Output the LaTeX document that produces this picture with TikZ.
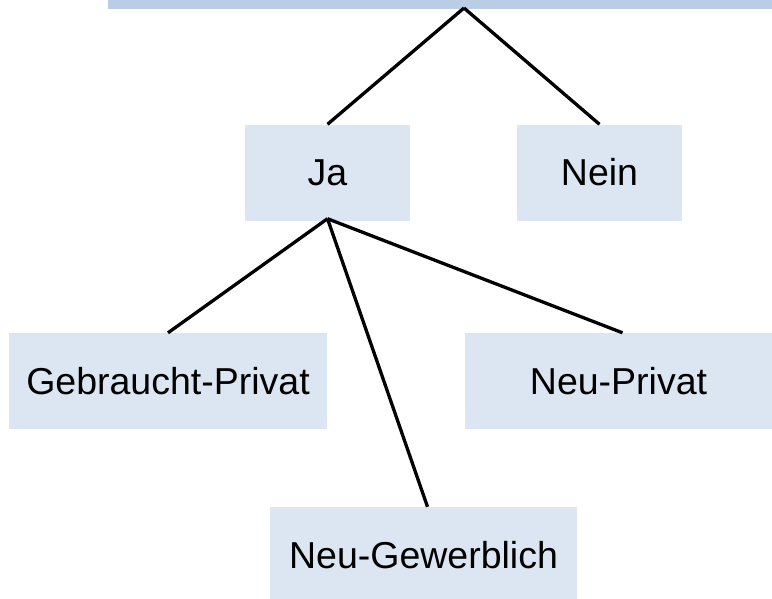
\documentclass[tikz,border=0pt]{standalone}
\usepackage{fontspec}
\setmainfont{Liberation Sans}
\usetikzlibrary{positioning}
\definecolor{barBlue}{HTML}{B9CDE5}
\definecolor{boxBlue}{HTML}{DCE6F2}
\tikzset{
    topBar/.style={rectangle, fill=barBlue, inner sep=0pt, minimum height=9pt, minimum width=664pt},
    choiceBox/.style={rectangle, fill=boxBlue, inner sep=0pt, minimum height=96pt, font=\fontsize{37.5}{40}\selectfont},
    treeEdge/.style={line width=3.3pt},
}
\newcommand{\drawBranch}[2]{
    \draw[treeEdge] (#1) -- (#2);
}

\begin{document}
\begin{tikzpicture}[x=1pt, y=-1pt]
    \useasboundingbox (0,0) rectangle (772,598);

    % Frage oben (nur der Balken ist sichtbar)
    \node[topBar] (frage) at (440,4.5) {};
    \coordinate (spitze) at (464,8);

    \node[choiceBox, minimum width=165pt] (ja) at (327.5,172.5) {Ja};
    \node[choiceBox, minimum width=165pt] (nein) at (599.5,172.5) {Nein};

    \node[choiceBox, minimum width=318pt] (gebraucht) at (168,381) {Gebraucht-Privat};
    \node[choiceBox, minimum width=307pt] (neuprivat) at (618.5,381) {Neu-Privat};
    \node[choiceBox, minimum width=307pt] (neugewerbe) at (423.5,555) {Neu-Gewerblich};

    \coordinate (jaFuss) at ([yshift=2pt]ja.south);
    \drawBranch{spitze}{ja.north}
    \drawBranch{spitze}{nein.north}
    \drawBranch{jaFuss}{gebraucht.north}
    \drawBranch{jaFuss}{[xshift=4pt]neugewerbe.north}
    \drawBranch{jaFuss}{[xshift=4pt]neuprivat.north}

\end{tikzpicture}
\end{document}
